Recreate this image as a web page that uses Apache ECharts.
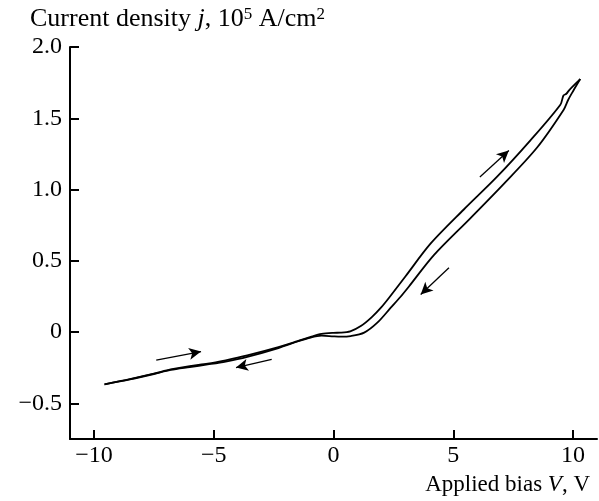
<!DOCTYPE html>
<html>
<head>
<meta charset="utf-8">
<script src="https://cdn.jsdelivr.net/npm/echarts@6/dist/echarts.min.js"></script>
<style>html,body{margin:0;padding:0;background:#fff}#c{width:599px;height:501px}</style>
</head>
<body>
<div id="c"></div>
<script>
// Forward sweep (-V to +V), upper branch at high bias
const forwardV = [-9.56,-8.5,-7.5,-6.8,-6.0,-5.25,-4.5,-3.6,-2.3,-1.5,-0.95,-0.5,0.0,0.3,0.7,1.14,1.6,2.0,2.32,3.0,4.05,5.44,6.83,8.22,9.47,9.6,9.72,9.85,10.3];
const forwardJ = [-0.366,-0.33,-0.292,-0.262,-0.238,-0.222,-0.198,-0.164,-0.106,-0.064,-0.034,-0.013,-0.005,-0.004,0.005,0.042,0.105,0.175,0.241,0.39,0.62,0.86,1.09,1.345,1.595,1.66,1.672,1.7,1.775];
// Reverse sweep (+V to -V), lower branch at high bias
const reverseV = [10.3,10.0,9.8,9.61,8.5,7.11,5.72,4.19,3.15,2.8,2.39,1.83,1.28,0.72,0.3,0.0,-0.5,-1.0,-1.5,-2.3,-3.6,-4.5,-5.25,-6.0,-6.8,-7.5,-8.5,-9.56];
const reverseJ = [1.775,1.69,1.63,1.56,1.295,1.04,0.8,0.54,0.32,0.248,0.171,0.066,-0.004,-0.028,-0.032,-0.03,-0.025,-0.04,-0.066,-0.112,-0.174,-0.207,-0.227,-0.245,-0.265,-0.294,-0.332,-0.366];
// Direction arrows: [V start, j start, V end, j end]
const arrows = [[-7.4,-0.196,-5.53,-0.137],[-2.58,-0.191,-4.07,-0.249],[6.11,1.088,7.32,1.274],[4.82,0.451,3.64,0.264]];
const xTicks = [-10,-5,0,5,10];
const yTicks = [-0.5,0,0.5,1.0,1.5,2.0];

const font = 'Liberation Serif';
const fs = 24;
const pair = (a,b) => a.map((v,i)=>[v,b[i]]);
const fmtX = v => String(v).replace('-', '\u2212');
const fmtY = v => v === 0 ? '0' : (v < 0 ? '\u2212' : '') + Math.abs(v).toFixed(1);

const chart = echarts.init(document.getElementById('c'), null, {renderer:'canvas'});
chart.setOption({
  animation:false,
  backgroundColor:'#fff',
  graphic:[{
    type:'text', left:30, top:6,
    style:{
      text:'{a|Current density }{i|j}{a|, 10}{s|5}{a| A/cm}{s|2}',
      rich:{
        a:{fontFamily:font,fontSize:26,fill:'#000'},
        i:{fontFamily:font,fontSize:26,fontStyle:'italic',fill:'#000'},
        s:{fontFamily:font,fontSize:17,fill:'#000',verticalAlign:'top',padding:[0,0,10,0]}
      }
    }
  },{
    type:'text', right:9, bottom:5,
    style:{
      text:'{a|Applied bias }{i|V}{a|, V}',
      rich:{
        a:{fontFamily:font,fontSize:23,fill:'#000'},
        i:{fontFamily:font,fontSize:23,fontStyle:'italic',fill:'#000'}
      }
    }
  }],
  grid:{left:70,right:2,top:47,bottom:62,containLabel:false,outerBoundsMode:'none'},
  xAxis:{
    type:'value',min:-11,max:11,
    axisLine:{onZero:false,lineStyle:{color:'#000',width:2}},
    axisTick:{inside:true,length:9,lineStyle:{color:'#000',width:2},customValues:xTicks},
    axisLabel:{customValues:xTicks,formatter:fmtX,color:'#000',fontFamily:font,fontSize:fs,margin:5},
    splitLine:{show:false}
  },
  yAxis:{
    type:'value',min:-0.75,max:2,
    axisLine:{onZero:false,lineStyle:{color:'#000',width:2}},
    axisTick:{inside:true,length:9,lineStyle:{color:'#000',width:2},customValues:yTicks},
    axisLabel:{customValues:yTicks,formatter:fmtY,color:'#000',fontFamily:font,fontSize:fs,margin:8},
    splitLine:{show:false}
  },
  series:[{
    type:'line',data:pair(forwardV,forwardJ),showSymbol:false,smooth:0.3,
    lineStyle:{color:'#000',width:1.8},
    markLine:{
      silent:true,symbol:['none','arrow'],symbolSize:[9,12],
      label:{show:false},
      lineStyle:{color:'#000',width:1.3,type:'solid'},
      data:arrows.map(a=>[{coord:[a[0],a[1]]},{coord:[a[2],a[3]]}])
    }
  },{
    type:'line',data:pair(reverseV,reverseJ),showSymbol:false,smooth:0.3,
    lineStyle:{color:'#000',width:1.8}
  }]
});
</script>
</body>
</html>
